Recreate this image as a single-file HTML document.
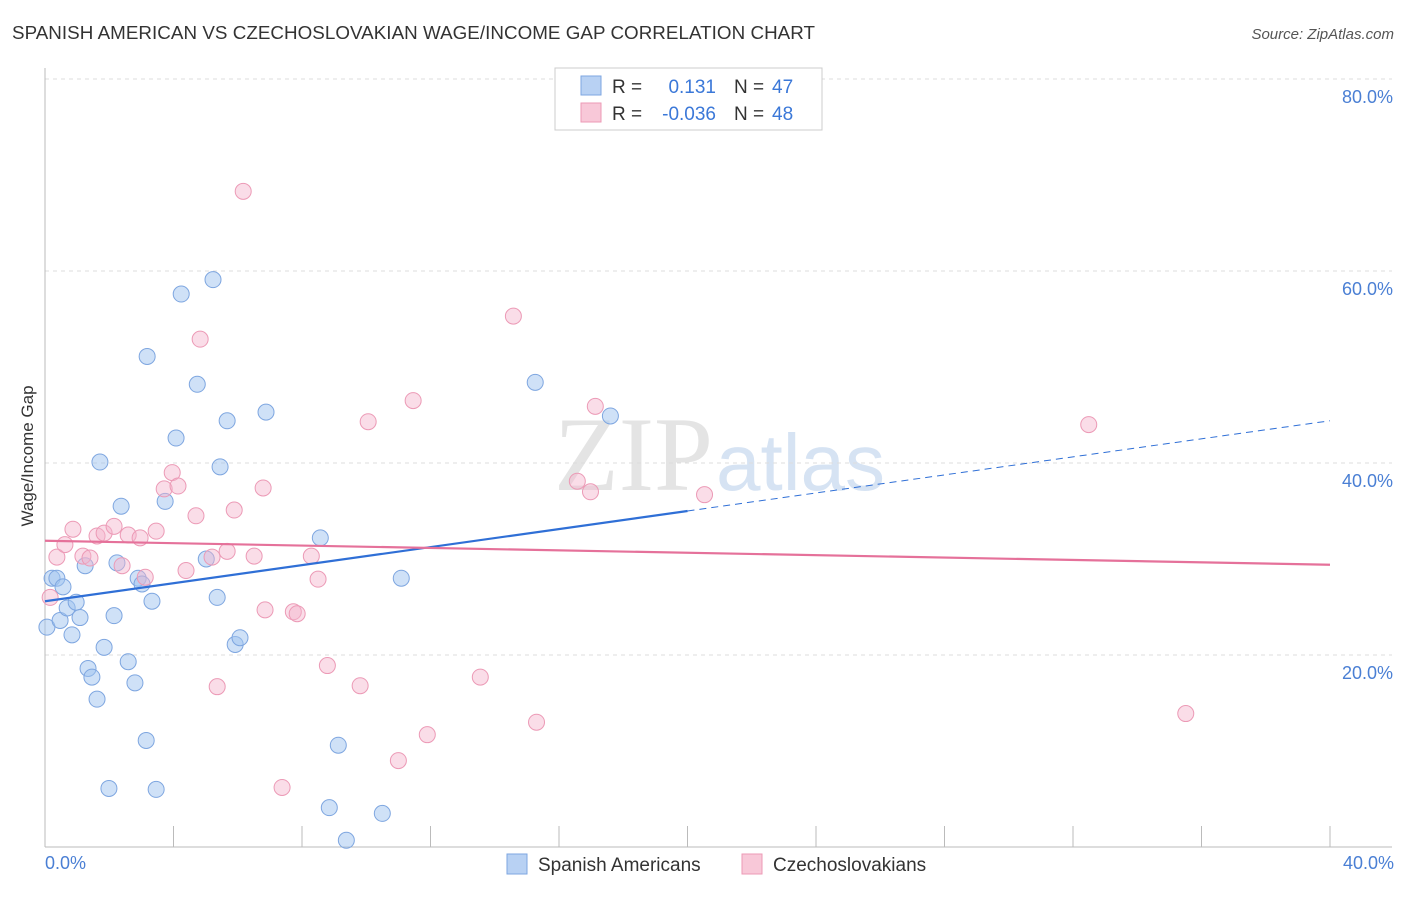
<!DOCTYPE html>
<html><head><meta charset="utf-8"><style>
body{margin:0;background:#fff;font-family:"Liberation Sans",sans-serif}
</style></head><body>
<svg width="1406" height="892" viewBox="0 0 1406 892" xmlns="http://www.w3.org/2000/svg">
<text x="12" y="39" font-size="18.8" fill="#333" textLength="803">SPANISH AMERICAN VS CZECHOSLOVAKIAN WAGE/INCOME GAP CORRELATION CHART</text>
<text x="1394" y="39" font-size="15" fill="#555" font-style="italic" text-anchor="end">Source: ZipAtlas.com</text>
<text x="713" y="490" font-size="106" font-family="Liberation Serif,serif" fill="#e4e4e4" text-anchor="end">ZIP</text>
<text x="716" y="490" font-size="80" fill="#d6e3f3">atlas</text>
<g id="grid"></g>
<g id="axes"></g>
<g id="marks"></g>
<text transform="translate(33,456) rotate(-90)" font-size="17" fill="#333" text-anchor="middle">Wage/Income Gap</text>
<text x="45" y="869" font-size="18" fill="#4a7fd4">0.0%</text>
<text x="1394" y="869" font-size="18" fill="#4a7fd4" text-anchor="end">40.0%</text>
<g>
<rect x="555" y="68" width="267" height="62" fill="#fff" stroke="#ccc"/>
<rect x="581" y="76" width="20" height="19" fill="#b8d1f3" stroke="#7ea6e0"/>
<rect x="581" y="103" width="20" height="19" fill="#f8c8d8" stroke="#ec9ab6"/>
<text x="612" y="93" font-size="19" fill="#333">R = </text><text x="716" y="93" font-size="19" fill="#3b78d8" text-anchor="end">0.131</text>
<text x="734" y="93" font-size="19" fill="#333">N = </text><text x="772" y="93" font-size="19" fill="#3b78d8">47</text>
<text x="612" y="120" font-size="19" fill="#333">R = </text><text x="716" y="120" font-size="19" fill="#3b78d8" text-anchor="end">-0.036</text>
<text x="734" y="120" font-size="19" fill="#333">N = </text><text x="772" y="120" font-size="19" fill="#3b78d8">48</text>
</g>
<g>
<rect x="507" y="854" width="20" height="20" fill="#b8d1f3" stroke="#7ea6e0"/>
<text x="538" y="871" font-size="19" fill="#333">Spanish Americans</text>
<rect x="742" y="854" width="20" height="20" fill="#f8c8d8" stroke="#ec9ab6"/>
<text x="773" y="871" font-size="19" fill="#333">Czechoslovakians</text>
</g>
</svg>
<script>
const yTicks=[20,40,60,80];
const yTickLabels=["20.0%","40.0%","60.0%","80.0%"];
const xTicks=[0,4,8,12,16,20,24,28,32,36,40];
const blueX=[0.06,0.22,0.37,0.47,0.56,0.69,0.84,0.97,1.09,1.25,1.34,1.46,1.62,1.71,1.84,1.99,2.15,2.24,2.37,2.59,2.80,2.90,3.02,3.15,3.18,3.33,3.46,3.74,4.08,4.24,4.74,5.02,5.23,5.36,5.45,5.67,5.92,6.07,6.88,8.57,8.85,9.13,9.38,10.50,11.09,15.26,17.60];
const blueY=[22.9,28.0,28.0,23.6,27.1,24.9,22.1,25.5,23.9,29.3,18.6,17.7,15.4,40.1,20.8,6.1,24.1,29.6,35.5,19.3,17.1,28.0,27.4,11.1,51.1,25.6,6.0,36.0,42.6,57.6,48.2,30.0,59.1,26.0,39.6,44.4,21.1,21.8,45.3,32.2,4.1,10.6,0.7,3.5,28.0,48.4,44.9];
const pinkX=[0.16,0.37,0.62,0.87,1.18,1.40,1.62,1.84,2.15,2.40,2.59,2.96,3.12,3.46,3.71,3.96,4.14,4.39,4.70,4.83,5.20,5.36,5.67,5.89,6.17,6.51,6.79,6.85,7.38,7.73,7.85,8.29,8.50,8.79,9.81,10.06,11.00,11.46,11.90,13.55,14.58,15.30,16.57,16.98,17.13,20.53,32.49,35.51];
const pinkY=[26.0,30.2,31.5,33.1,30.3,30.1,32.4,32.7,33.4,29.3,32.5,32.2,28.1,32.9,37.3,39.0,37.6,28.8,34.5,52.9,30.2,16.7,30.8,35.1,68.3,30.3,37.4,24.7,6.2,24.5,24.3,30.3,27.9,18.9,16.8,44.3,9.0,46.5,11.7,17.7,55.3,13.0,38.1,37.0,45.9,36.7,44.0,13.9];
const blueTrend=[25.6,44.4], blueSolidEnd=20;
const pinkTrend=[31.9,29.4];
const X=v=>45+v*32.125, Y=v=>847-v*9.6;
const NS="http://www.w3.org/2000/svg";
function mk(t,a,p){const e=document.createElementNS(NS,t);for(const k in a)e.setAttribute(k,a[k]);p.appendChild(e);return e;}
const grid=document.getElementById('grid'),axes=document.getElementById('axes'),marks=document.getElementById('marks');
yTicks.forEach((v,i)=>{
 const l=mk('line',{x1:45,x2:1392,y1:Y(v),y2:Y(v),stroke:'#ddd','stroke-dasharray':'4,4'},grid);
 
 
 const t=mk('text',{x:1393,y:Y(v)+24,'font-size':18,fill:'#4a7fd4','text-anchor':'end'},grid);
 t.textContent=yTickLabels[i];
 
 
});
const ax=mk('line',{x1:45,x2:45,y1:68,y2:847,stroke:'#bbb'},axes);


const bx=mk('line',{x1:45,x2:1392,y1:847,y2:847,stroke:'#bbb'},axes);


xTicks.forEach(v=>{
 const l=mk('line',{x1:X(v),x2:X(v),y1:826,y2:847,stroke:'#bbb'},axes);
 
 
});
blueX.forEach((v,i)=>{
 const c=mk('circle',{cx:X(v),cy:Y(blueY[i]),r:8,fill:'rgba(160,195,240,0.5)',stroke:'#7ea6e0','stroke-width':1},marks);
 
 
});
pinkX.forEach((v,i)=>{
 const c=mk('circle',{cx:X(v),cy:Y(pinkY[i]),r:8,fill:'rgba(245,180,204,0.45)',stroke:'#ec9ab6','stroke-width':1},marks);
 
 
});
const bt=v=>blueTrend[0]+(blueTrend[1]-blueTrend[0])*v/40;
const b1=mk('line',{x1:X(0),y1:Y(bt(0)),x2:X(blueSolidEnd),y2:Y(bt(blueSolidEnd)),stroke:'#2f6fd6','stroke-width':2.2},marks);


const b2=mk('line',{x1:X(blueSolidEnd),y1:Y(bt(blueSolidEnd)),x2:X(40),y2:Y(bt(40)),stroke:'#2f6fd6','stroke-width':1,'stroke-dasharray':'7,5'},marks);


const p1=mk('line',{x1:X(0),y1:Y(pinkTrend[0]),x2:X(40),y2:Y(pinkTrend[1]),stroke:'#e5719a','stroke-width':2.2},marks);


</script>
</body></html>
